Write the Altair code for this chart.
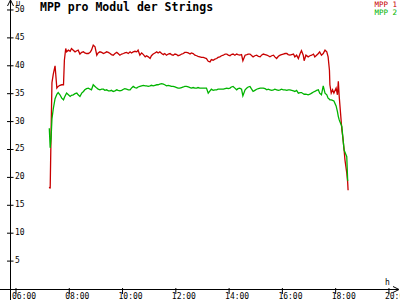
import altair as alt
import pandas as pd

FONT = "DejaVu Sans Mono"

times = [
    "07:15", "07:17", "07:19", "07:21", "07:24", "07:28", "07:32", "07:35", "07:39", "07:43", "07:47", "07:49", "07:52", "07:54", "07:58",
    "08:02", "08:05", "08:09", "08:13", "08:17", "08:20", "08:24", "08:28", "08:32", "08:35", "08:39", "08:43", "08:47", "08:50", "08:54", "08:58",
    "09:02", "09:05", "09:09", "09:13", "09:17", "09:20", "09:24", "09:28", "09:32", "09:35", "09:39", "09:43", "09:47", "09:50", "09:54", "09:58",
    "10:02", "10:05", "10:09", "10:13", "10:17", "10:20", "10:24", "10:28", "10:32", "10:35", "10:39", "10:43", "10:47", "10:51", "10:54", "10:58",
    "11:02", "11:05", "11:09", "11:13", "11:17", "11:20", "11:24", "11:28", "11:32", "11:35", "11:39", "11:43", "11:47", "11:50", "11:54", "11:58",
    "12:02", "12:05", "12:09", "12:13", "12:17", "12:20", "12:24", "12:28", "12:32", "12:35", "12:39", "12:43", "12:47", "12:50", "12:54", "12:58",
    "13:02", "13:05", "13:09", "13:13", "13:17", "13:20", "13:24", "13:28", "13:32", "13:35", "13:39", "13:43", "13:47", "13:51", "13:55", "13:58",
    "14:02", "14:05", "14:09", "14:13", "14:17", "14:20", "14:24", "14:28", "14:31", "14:36", "14:40", "14:43", "14:47", "14:50", "14:54", "14:58",
    "15:02", "15:06", "15:10", "15:13", "15:17", "15:21", "15:25", "15:28", "15:32", "15:36", "15:40", "15:43", "15:47", "15:51", "15:55", "15:58",
    "16:02", "16:06", "16:10", "16:13", "16:17", "16:21", "16:25", "16:28", "16:32", "16:36", "16:40", "16:43", "16:47", "16:49", "16:53", "16:58",
    "17:02", "17:06", "17:10", "17:13", "17:17", "17:21", "17:24", "17:28", "17:32", "17:36", "17:40", "17:43", "17:46", "17:47", "17:50", "17:53", "17:56",
    "18:01", "18:04", "18:06", "18:08", "18:11", "18:14", "18:16", "18:19", "18:21", "18:25", "18:27", "18:28",
]

mpp1 = [
    18.3, 18.0, 28.0, 37.0, 38.5, 40.0, 36.0, 36.3, 36.5, 36.6, 36.6, 41.0, 43.1, 42.5, 42.8,
    42.6, 43.1, 42.8, 42.5, 42.7, 42.8, 42.1, 42.4, 42.5, 42.3, 42.2, 42.2, 42.4, 42.8, 43.7, 43.4,
    41.9, 42.3, 42.5, 42.4, 42.2, 42.3, 42.5, 42.4, 42.2, 42.0, 41.9, 42.2, 42.4, 42.2, 41.9, 42.1,
    42.2, 42.3, 42.4, 42.2, 42.5, 42.3, 42.5, 42.6, 42.5, 42.8, 41.9, 42.3, 42.0, 41.6, 41.8, 41.6,
    41.3, 41.8, 42.1, 42.3, 42.5, 42.3, 42.5, 42.2, 42.0, 42.2, 41.9, 42.1, 42.2, 42.0, 41.9, 42.1,
    42.0, 41.8, 41.9, 42.1, 42.2, 42.4, 42.4, 42.3, 42.1, 42.3, 42.2, 41.9, 41.8, 41.7, 41.6, 41.5,
    41.5, 41.4, 41.3, 40.8, 40.7, 41.1, 41.0, 41.2, 41.3, 41.5, 41.6, 41.8, 41.9, 42.1, 42.1, 41.9,
    41.8, 42.0, 42.1, 41.9, 42.1, 42.0, 41.9, 42.0, 40.9, 41.9, 42.0, 42.1, 42.1, 41.9, 41.6, 41.8,
    41.9, 41.7, 41.6, 41.9, 42.1, 42.0, 41.9, 41.8, 41.6, 41.8, 41.9, 41.6, 41.3, 41.7, 41.9, 42.0,
    42.1, 42.2, 42.2, 42.0, 41.9, 42.0, 42.1, 41.6, 41.9, 41.3, 42.2, 42.7, 41.9, 40.9, 41.9, 41.6,
    41.8, 41.9, 42.1, 41.6, 41.9, 42.2, 42.5, 41.9, 42.2, 42.8, 42.5, 41.6, 39.2, 36.6, 35.1, 35.7, 35.1,
    36.0, 34.8, 37.2, 34.5, 31.5, 28.5, 27.3, 24.9, 23.1, 20.8, 19.2, 17.7,
]

mpp2 = [
    28.8, 25.3, 27.0, 30.5, 32.3, 34.1, 34.9, 35.2, 34.8, 34.2, 33.9, 34.3, 34.8, 35.1, 34.8,
    34.5, 34.7, 34.8, 35.0, 35.1, 34.8, 34.5, 35.1, 35.4, 35.7, 35.9, 36.0, 35.8, 35.7, 36.6, 36.3,
    36.0, 35.8, 35.7, 35.8, 35.8, 35.6, 35.7, 35.5, 35.5, 35.6, 35.4, 35.5, 35.7, 35.6, 35.5, 35.6,
    35.8, 35.9, 35.8, 35.7, 35.7, 36.0, 36.3, 36.1, 36.0, 36.2, 36.3, 36.4, 36.5, 36.4, 36.4, 36.3,
    36.4, 36.5, 36.4, 36.5, 36.6, 36.6, 36.7, 36.8, 36.7, 36.6, 36.4, 36.5, 36.4, 36.3, 36.3, 36.2,
    36.1, 36.0, 36.0, 36.1, 36.2, 36.3, 36.3, 36.2, 36.1, 36.0, 36.1, 36.0, 36.0, 36.1, 36.0, 36.0,
    36.0, 36.0, 36.0, 35.1, 35.5, 35.8, 35.6, 35.7, 35.7, 35.8, 35.8, 35.8, 35.8, 35.9, 36.0, 35.9,
    36.0, 36.2, 36.3, 36.0, 35.7, 35.9, 36.0, 35.8, 34.6, 35.7, 36.0, 36.2, 36.3, 35.9, 35.4, 35.6,
    35.8, 35.9, 36.0, 36.0, 36.0, 35.9, 35.7, 35.8, 35.7, 35.6, 35.7, 35.8, 35.7, 35.6, 35.7, 35.8,
    35.7, 35.7, 35.6, 35.7, 35.7, 35.6, 35.5, 35.4, 35.6, 35.1, 35.2, 35.2, 35.0, 34.9, 34.9, 34.8,
    34.9, 35.1, 35.3, 35.4, 35.6, 35.7, 35.1, 34.8, 36.4, 35.1, 34.8, 34.2, 34.0, 33.9, 33.9, 33.8, 33.7,
    32.8, 31.8, 30.9, 30.3, 29.7, 29.1, 27.3, 24.9, 24.5, 23.7, 19.5, 19.4,
]

series_names = ["MPP 1", "MPP 2"]
series_colors = ["#c80000", "#00b400"]
y_ticks = [5, 10, 15, 20, 25, 30, 35, 40, 45, 50]
x_ticks = [6, 8, 10, 12, 14, 16, 18, 20]
x_labels = ["06:00", "08:00", "10:00", "12:00", "14:00", "16:00", "18:00", "20:00"]
title_text = "MPP pro Modul der Strings"
y_unit = "U"
x_unit = "h"


def to_hours(s):
    h, m = s.split(":")
    return int(h) + int(m) / 60.0


hours = [to_hours(s) for s in times]
df = pd.DataFrame({"t": hours, "MPP 1": mpp1, "MPP 2": mpp2}).melt(
    "t", var_name="s", value_name="v"
)

xs = alt.Scale(domain=[5.775, 20.34], nice=False, zero=False)
ys = alt.Scale(domain=[0, 51.43], nice=False, zero=False)

lines = alt.Chart(df).mark_line(strokeWidth=1.3).encode(
    x=alt.X("t:Q", scale=xs, axis=None),
    y=alt.Y("v:Q", scale=ys, axis=None),
    color=alt.Color("s:N", scale=alt.Scale(domain=series_names, range=series_colors), legend=None),
    detail="s:N",
)

one = pd.DataFrame({"k": [0]})

x_axis = alt.Chart(one).mark_rule(color="black", strokeWidth=1).encode(
    x=alt.value(-10), x2=alt.value(388), y=alt.value(287.5)
)
y_axis = alt.Chart(one).mark_rule(color="black", strokeWidth=1).encode(
    x=alt.value(0.5), y=alt.value(-2), y2=alt.value(298)
)

up_arrow = alt.Chart(one).mark_point(
    shape="M -1 1 L 0 -1 L 1 1", filled=False, size=36, color="black", strokeWidth=1, opacity=1
).encode(x=alt.value(0.5), y=alt.value(1))
right_arrow = alt.Chart(one).mark_point(
    shape="M -1 -1 L 1 0 L -1 1", filled=False, size=36, color="black", strokeWidth=1, opacity=1
).encode(x=alt.value(386), y=alt.value(287.5))

ydf = pd.DataFrame({"v": y_ticks, "lab": [str(v) for v in y_ticks]})
xdf = pd.DataFrame({"t": x_ticks, "lab": x_labels})

y_tick_marks = alt.Chart(ydf).mark_rule(color="black", strokeWidth=1).encode(
    y=alt.Y("v:Q", scale=ys, axis=None), x=alt.value(-3), x2=alt.value(3.5)
)
y_tick_labels = alt.Chart(ydf).mark_text(
    align="left", baseline="middle", font=FONT, fontSize=8, color="black"
).encode(y=alt.Y("v:Q", scale=ys, axis=None), x=alt.value(5), text="lab:N")

x_tick_marks = alt.Chart(xdf).mark_rule(color="black", strokeWidth=1).encode(
    x=alt.X("t:Q", scale=xs, axis=None), y=alt.value(286), y2=alt.value(292)
)
x_tick_labels = alt.Chart(xdf).mark_text(
    align="left", baseline="alphabetic", font=FONT, fontSize=8, color="black", dx=-4
).encode(x=alt.X("t:Q", scale=xs, axis=None), y=alt.value(297), text="lab:N")

title = alt.Chart(pd.DataFrame({"txt": [title_text]})).mark_text(
    align="left", baseline="alphabetic", font=FONT, fontSize=11.5, fontWeight="bold", color="black"
).encode(x=alt.value(30), y=alt.value(9), text="txt:N")

u_label = alt.Chart(pd.DataFrame({"txt": [y_unit]})).mark_text(
    align="left", baseline="alphabetic", font=FONT, fontSize=7, color="black"
).encode(x=alt.value(6), y=alt.value(3.5), text="txt:N")
h_label = alt.Chart(pd.DataFrame({"txt": [x_unit]})).mark_text(
    align="left", baseline="alphabetic", font=FONT, fontSize=8, color="black"
).encode(x=alt.value(375), y=alt.value(283), text="txt:N")

legend1 = alt.Chart(pd.DataFrame({"txt": [series_names[0]]})).mark_text(
    align="right", baseline="alphabetic", font=FONT, fontSize=7.5, color=series_colors[0]
).encode(x=alt.value(387), y=alt.value(4.5), text="txt:N")
legend2 = alt.Chart(pd.DataFrame({"txt": [series_names[1]]})).mark_text(
    align="right", baseline="alphabetic", font=FONT, fontSize=7.5, color=series_colors[1]
).encode(x=alt.value(387), y=alt.value(13), text="txt:N")

chart = alt.layer(
    lines, x_axis, y_axis, up_arrow, right_arrow,
    y_tick_marks, y_tick_labels, x_tick_marks, x_tick_labels,
    title, u_label, h_label, legend1, legend2,
).properties(
    width=388,
    height=287,
    padding={"left": 10, "top": 2, "right": 2, "bottom": 11},
    autosize=alt.AutoSizeParams(type="none"),
    background="white",
).configure_view(stroke=None)

chart.save("out.html", embed_options={"renderer": "svg", "actions": False})
